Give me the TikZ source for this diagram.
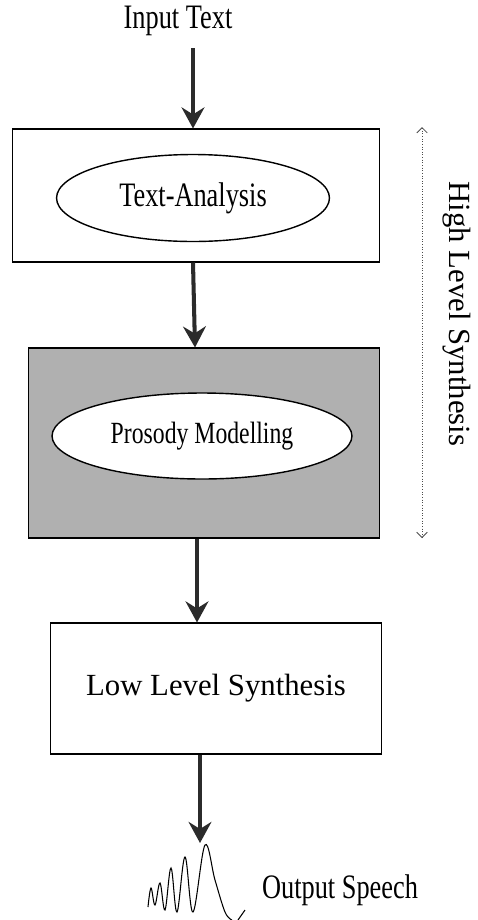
\documentclass[tikz,border=0pt]{standalone}
\usepackage{fontspec}
\setmainfont{Liberation Serif}
\usepackage{xcolor}
\usetikzlibrary{positioning,arrows.meta,shapes.geometric}
\definecolor{trama}{HTML}{B0B0B0}
\definecolor{tinta}{HTML}{2B2B2B}
\newcommand{\estirado}[1]{\scalebox{1}[1.3]{#1}}

\begin{document}
\begin{tikzpicture}[x=0.02cm, y=-0.02cm, >={Stealth[length=12pt, width=13pt, inset=4pt]},
      bloque/.style={draw, line width=0.6pt, inner sep=0pt},
      elipse/.style={draw, ellipse, fill=white, line width=0.8pt, inner sep=0pt},
      flecha/.style={->, line width=2.3pt, draw=tinta, fill=tinta},
      rotulo/.style={font=\fontsize{15}{18}\selectfont}]
    \useasboundingbox (0,0) rectangle (477,920);
    \node[rotulo] (in) at (178,21) {\estirado{Input Text}};
    \node[bloque, minimum width=7.36cm, minimum height=2.66cm] (ta) at (196,195.5) {};
    \node[elipse, minimum width=5.46cm, minimum height=1.74cm, rotulo] (tae) at (193,198) {\estirado{Text-Analysis}};
    \node[bloque, fill=trama, minimum width=7.04cm, minimum height=3.8cm] (pm) at (204,443) {};
    \node[elipse, minimum width=6cm, minimum height=1.72cm, font=\fontsize{13.5}{16}\selectfont] (pme) at (202,436) {\estirado{Prosody Modelling}};
    \node[bloque, minimum width=6.64cm, minimum height=2.62cm, font=\fontsize{17.5}{21}\selectfont] (ll) at (216,688.5) {Low Level Synthesis};
    \coordinate (onda) at (200,843);
    \draw[flecha] (in.south -| tae) ++(0,6) -- (ta.north -| tae);
    \draw[flecha] (ta.south -| tae) -- ([xshift=0.04cm]pm.north -| tae);
    \draw[flecha] ([xshift=-0.1cm]pm.south -| pme) -- ([xshift=-0.1cm]ll.north -| pme);
    \draw[flecha] (ll.south -| onda) -- (onda);
    % tramo de alto nivel
    \coordinate (hs1) at (422,127);
    \coordinate (hs2) at (422,538);
    \draw[densely dotted, line width=0.5pt, black!70, {Straight Barb[length=3pt]}-{Straight Barb[length=3pt]}] (hs1) -- (hs2);
    \node[rotate=-90, font=\fontsize{17.5}{21}\selectfont] (hls) at (457,314) {High Level Synthesis};
    % forma de onda
    \draw[line width=0.6pt] plot[smooth, tension=0.6] coordinates {(148,907) (151,888) (155,905) (160,883) (165,910) (171,868) (177,912) (185,857) (193,912) (205,845) (215,880) (225,912) (232,920)};
    \draw[line width=0.6pt] (238,920) -- (245,910);
    \node[rotulo] (out) at (340,890) {\estirado{Output Speech}};
  \end{tikzpicture}
\end{document}
